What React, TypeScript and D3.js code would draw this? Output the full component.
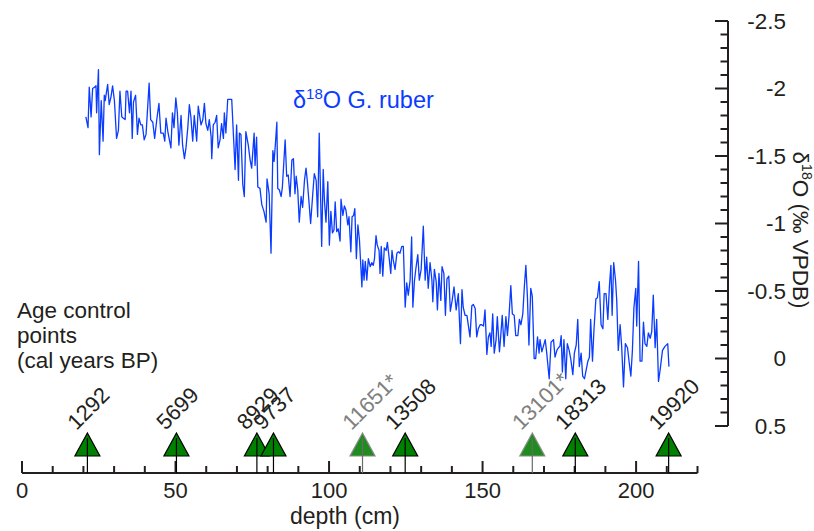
import React, { useEffect, useRef } from "react";
import * as d3 from "d3";

// core depth (cm) of each measurement
const depthCm = [
  20.8, 21.5, 21.9, 22.5, 23.0, 23.6, 24.1, 24.3, 24.9, 25.2, 25.8, 26.4, 26.8, 27.1, 27.9, 28.4, 29.0, 29.5, 30.1, 30.8,
  31.4, 31.9, 32.5, 33.0, 33.6, 33.9, 34.4, 35.0, 35.5, 35.9, 36.3, 37.0, 37.6, 38.1, 38.7, 39.2, 39.8, 40.4, 41.4, 41.9,
  42.6, 43.2, 43.9, 44.6, 45.2, 46.0, 46.5, 46.9, 47.5, 48.0, 48.5, 49.0, 49.5, 50.1, 50.6, 51.1, 51.8, 52.3, 52.9, 53.4,
  54.0, 54.5, 55.0, 55.6, 56.1, 56.9, 57.4, 58.3, 58.9, 59.4, 59.9, 60.5, 61.0, 61.6, 61.8, 62.3, 62.9, 63.4, 63.9, 64.5,
  65.0, 65.6, 65.9, 66.4, 67.0, 68.3, 69.4, 69.9, 70.5, 70.8, 71.3, 71.9, 72.4, 72.9, 73.7, 74.3, 74.8, 75.6, 75.9, 76.4,
  76.8, 77.5, 78.1, 78.8, 79.5, 79.8, 80.5, 81.1, 81.7, 82.1, 82.5, 83.0, 83.3, 83.8, 84.4, 84.8, 85.7, 86.2, 86.7, 87.3,
  87.9, 88.4, 88.9, 89.3, 89.8, 90.3, 90.9, 91.4, 92.0, 92.5, 92.9, 93.5, 94.0, 94.7, 95.2, 95.8, 96.3, 96.8, 97.6, 98.1,
  98.5, 99.0, 99.6, 100.1, 100.6, 101.1, 101.6, 102.0, 102.5, 103.0, 103.6, 103.9, 104.5, 105.0, 105.5, 106.1, 106.5, 107.1, 107.5, 108.0,
  108.4, 108.9, 109.4, 109.9, 110.7, 111.0, 111.4, 111.8, 112.3, 112.8, 113.4, 113.9, 114.4, 114.8, 115.3, 115.7, 116.3, 116.6, 117.0, 117.5,
  118.0, 118.6, 119.0, 119.6, 120.1, 120.5, 120.9, 121.5, 122.1, 122.6, 123.1, 123.7, 124.2, 124.8, 125.3, 125.8, 126.4, 126.9, 127.3, 127.8,
  128.3, 128.9, 129.4, 130.0, 130.7, 131.3, 131.8, 132.3, 132.9, 133.5, 133.8, 134.3, 134.9, 135.3, 135.8, 136.4, 136.8, 137.4, 137.9, 138.4,
  139.0, 139.5, 140.1, 140.7, 141.4, 142.1, 142.8, 143.3, 143.7, 144.3, 144.9, 145.4, 145.9, 146.5, 147.0, 147.6, 148.1, 148.6, 149.2, 149.7,
  150.3, 150.8, 151.4, 151.9, 152.4, 152.8, 153.3, 153.8, 154.4, 154.8, 155.5, 155.9, 156.4, 157.0, 157.6, 158.1, 158.6, 159.2, 159.7, 160.3,
  160.8, 161.5, 162.0, 162.5, 163.1, 163.6, 164.1, 164.6, 165.1, 165.7, 166.2, 166.8, 167.3, 167.9, 168.4, 168.7, 169.3, 169.8, 170.4, 170.9,
  171.7, 172.3, 173.1, 173.6, 174.2, 174.7, 175.2, 175.6, 176.0, 176.5, 177.1, 177.6, 178.2, 178.7, 179.4, 179.9, 180.5, 181.0, 181.5, 182.1,
  182.6, 183.2, 183.7, 184.3, 184.8, 185.2, 185.8, 186.3, 186.9, 187.4, 188.0, 188.6, 189.2, 189.6, 190.2, 190.8, 191.3, 191.8, 192.2, 192.7,
  193.3, 193.7, 194.2, 194.8, 195.3, 195.9, 196.5, 197.2, 197.7, 198.3, 198.8, 199.3, 199.9, 200.2, 200.8, 201.3, 201.9, 202.4, 202.9, 203.5,
  204.0, 204.6, 205.1, 205.6, 206.2, 206.7, 207.3, 207.8, 208.6, 209.4, 210.3, 210.7
];

// d18O G. ruber (per mil VPDB)
const d18O = [
  -1.79, -1.71, -2.01, -1.79, -2.0, -2.01, -2.02, -1.82, -2.14, -1.51, -1.91, -1.61, -1.95, -1.91, -2.03, -1.88, -1.94, -2.02, -1.91, -1.63,
  -1.69, -1.98, -1.79, -1.78, -1.77, -1.98, -1.98, -1.82, -1.98, -1.63, -1.9, -1.95, -1.66, -1.78, -1.73, -1.73, -1.62, -1.66, -2.04, -1.77,
  -1.75, -1.63, -1.77, -1.89, -1.67, -1.67, -1.61, -1.78, -1.68, -1.62, -1.56, -1.82, -1.71, -1.93, -1.82, -1.58, -1.8, -1.58, -1.48, -1.56,
  -1.71, -1.88, -1.79, -1.61, -1.8, -1.61, -1.87, -1.73, -1.77, -1.89, -1.74, -1.69, -1.77, -1.64, -1.48, -1.73, -1.75, -1.8, -1.56, -1.62,
  -1.74, -1.63, -1.82, -1.67, -1.92, -1.92, -1.4, -1.73, -1.32, -1.67, -1.66, -1.29, -1.2, -1.68, -1.58, -1.47, -1.41, -1.67, -1.43, -1.64,
  -1.27, -1.26, -1.14, -1.09, -1.01, -1.33, -1.22, -0.78, -1.54, -1.46, -1.58, -1.75, -1.26, -1.25, -1.2, -1.27, -1.62, -1.35, -1.36, -1.2,
  -1.47, -1.48, -1.22, -1.35, -1.25, -1.01, -1.2, -1.12, -1.32, -1.41, -1.32, -1.15, -1.0, -1.22, -1.37, -1.32, -1.05, -1.67, -0.83, -1.4,
  -1.17, -1.01, -1.31, -0.84, -1.09, -0.93, -0.95, -1.16, -0.94, -0.96, -0.87, -1.18, -1.06, -1.13, -1.1, -0.99, -1.05, -0.79, -1.05, -1.06,
  -1.11, -0.74, -0.99, -0.88, -0.53, -0.73, -0.58, -0.72, -0.58, -0.74, -0.68, -0.71, -0.69, -0.74, -0.91, -0.84, -0.8, -0.63, -0.83, -0.61,
  -0.82, -0.8, -0.86, -0.74, -0.63, -0.8, -0.73, -0.66, -0.78, -0.79, -0.78, -0.83, -0.83, -0.38, -0.56, -0.47, -0.58, -0.9, -0.38, -0.57,
  -0.67, -0.77, -0.58, -0.66, -0.98, -0.58, -0.75, -0.52, -0.71, -0.58, -0.42, -0.66, -0.57, -0.36, -0.63, -0.43, -0.68, -0.63, -0.32, -0.59,
  -0.61, -0.35, -0.43, -0.53, -0.36, -0.48, -0.11, -0.51, -0.38, -0.32, -0.32, -0.24, -0.16, -0.39, -0.4, -0.37, -0.16, -0.22, -0.25, -0.25,
  -0.24, -0.36, -0.03, -0.16, -0.19, -0.09, -0.33, -0.04, -0.14, -0.31, -0.05, -0.16, -0.32, -0.09, -0.31, -0.17, -0.31, -0.54, -0.33, -0.32,
  -0.17, -0.17, -0.29, -0.25, -0.33, -0.53, -0.69, -0.46, -0.1, -0.52, -0.46, 0.0, 0.0, -0.16, -0.04, -0.14, -0.05, -0.09, -0.14, -0.04,
  0.15, -0.12, -0.14, -0.01, -0.06, -0.08, -0.09, -0.17, 0.1, -0.14, 0.15, -0.11, -0.06, 0.0, 0.12, -0.04, -0.1, -0.29, 0.06, -0.04,
  0.13, 0.15, 0.09, 0.02, -0.01, -0.29, 0.02, -0.22, -0.44, -0.45, -0.57, -0.25, -0.22, -0.48, -0.48, -0.29, -0.53, -0.69, -0.32, -0.71,
  -0.58, -0.43, -0.06, -0.25, -0.09, 0.21, -0.11, -0.08, 0.02, 0.13, -0.06, -0.38, -0.52, -0.24, -0.72, 0.02, 0.02, -0.27, -0.11, -0.09,
  -0.19, -0.15, -0.2, -0.47, -0.08, -0.29, 0.17, 0.09, -0.06, -0.09, -0.11, 0.06
];

// age control points (cal years BP), * = not used
const ageLabels = ["1292", "5699", "8929", "9737", "11651*", "13508", "13101*", "18313", "19920"];
const ageDepths = [21.3, 50.3, 76.5, 81.9, 110.9, 124.8, 166.2, 180.2, 210.6];
const ageRejected = [false, false, false, false, true, false, true, false, false];

const xTicks = [0, 50, 100, 150, 200];
const yTicks = [-2.5, -2, -1.5, -1, -0.5, 0, 0.5];

const FONT = "'Liberation Sans', Arial, sans-serif";
const INK = "#231f20";

export default function App() {
  const ref = useRef<SVGSVGElement>(null);

  useEffect(() => {
    const svg = d3.select(ref.current);
    svg.selectAll("*").remove();

    const x = d3.scaleLinear().domain([0, 220]).range([22, 697.5]);
    const y = d3.scaleLinear().domain([-2.5, 0.5]).range([21, 426]);
    const axisY = 473;
    const axisX = 728;

    // data line
    const pts = depthCm.map((d, i) => [d, d18O[i]] as [number, number]);
    const line = d3
      .line<[number, number]>()
      .x((d) => x(d[0]))
      .y((d) => y(d[1]));
    svg
      .append("path")
      .attr("d", line(pts))
      .attr("fill", "none")
      .attr("stroke", "#0a3cff")
      .attr("stroke-width", 1.3)
      .attr("stroke-linejoin", "round");

    // series label
    const lab = svg
      .append("text")
      .attr("x", 293)
      .attr("y", 108)
      .attr("fill", "#0a3cff")
      .attr("font-family", FONT)
      .attr("font-size", 23.5);
    lab.append("tspan").text("δ");
    lab.append("tspan").attr("dy", -9).attr("font-size", 15).text("18");
    lab.append("tspan").attr("dy", 9).text("O G. ruber");

    // bottom axis
    const gx = svg.append("g").attr("stroke", INK).attr("stroke-width", 2);
    gx.append("line").attr("x1", x(0)).attr("x2", x(220)).attr("y1", axisY).attr("y2", axisY);
    d3.range(0, 221, 10).forEach((t) => {
      const major = t % 50 === 0;
      gx.append("line")
        .attr("x1", x(t))
        .attr("x2", x(t))
        .attr("y1", axisY)
        .attr("y2", axisY - (major ? 12 : 7));
    });
    svg
      .selectAll(".xl")
      .data(xTicks)
      .enter()
      .append("text")
      .attr("x", (d) => x(d))
      .attr("y", 497.5)
      .attr("text-anchor", "middle")
      .attr("font-family", FONT)
      .attr("font-size", 22)
      .attr("fill", INK)
      .text((d) => d);
    svg
      .append("text")
      .attr("x", 345)
      .attr("y", 523.5)
      .attr("text-anchor", "middle")
      .attr("font-family", FONT)
      .attr("font-size", 23)
      .attr("fill", INK)
      .text("depth (cm)");

    // right axis
    const gy = svg.append("g").attr("stroke", INK).attr("stroke-width", 2);
    gy.append("line").attr("x1", axisX).attr("x2", axisX).attr("y1", y(-2.5)).attr("y2", y(0.5));
    d3.range(-25, 6, 1).forEach((k) => {
      const major = k % 5 === 0;
      gy.append("line")
        .attr("x1", axisX)
        .attr("x2", axisX - (major ? 13 : 7.5))
        .attr("y1", y(k / 10))
        .attr("y2", y(k / 10));
    });
    svg
      .selectAll(".yl")
      .data(yTicks)
      .enter()
      .append("text")
      .attr("x", 786)
      .attr("y", (d) => y(d))
      .attr("dy", "0.35em")
      .attr("text-anchor", "end")
      .attr("font-family", FONT)
      .attr("font-size", 22.5)
      .attr("fill", INK)
      .text((d) => d3.format("")(d).replace("−", "-"));

    const yt = svg
      .append("text")
      .attr("transform", "translate(793,230) rotate(90)")
      .attr("text-anchor", "middle")
      .attr("font-family", FONT)
      .attr("font-size", 22.5)
      .attr("fill", INK);
    yt.append("tspan").text("δ");
    yt.append("tspan").attr("dy", -9).attr("font-size", 14).text("18");
    yt.append("tspan").attr("dy", 9).text("O (‰ VPDB)");

    // age control legend text
    ["Age control", "points", "(cal years BP)"].forEach((s, i) => {
      svg
        .append("text")
        .attr("x", 17)
        .attr("y", 318 + i * 25)
        .attr("font-family", FONT)
        .attr("font-size", 22.5)
        .attr("fill", INK)
        .text(s);
    });

    // age control markers
    ageDepths.forEach((d, i) => {
      const cx = x(d);
      const rej = ageRejected[i];
      svg
        .append("path")
        .attr("d", `M${cx},433L${cx + 12.5},456L${cx - 12.5},456Z`)
        .attr("fill", rej ? "#1e8c1e" : "#008000")
        .attr("stroke", rej ? "#8a8a8a" : "#000")
        .attr("stroke-width", 1.2);
      svg
        .append("line")
        .attr("x1", cx)
        .attr("x2", cx)
        .attr("y1", 438)
        .attr("y2", axisY)
        .attr("stroke", rej ? "#6a6a6a" : "#000")
        .attr("stroke-width", 1.2);
      svg
        .append("text")
        .attr("transform", `translate(${cx - 11},431) rotate(-45)`)
        .attr("font-family", FONT)
        .attr("font-size", 22)
        .attr("fill", rej ? "#808080" : INK)
        .text(ageLabels[i]);
    });
  }, []);

  return (
    <svg
      ref={ref}
      width={814}
      height={531}
      style={{ position: "absolute", left: 0, top: 0, background: "#fff" }}
    />
  );
}
